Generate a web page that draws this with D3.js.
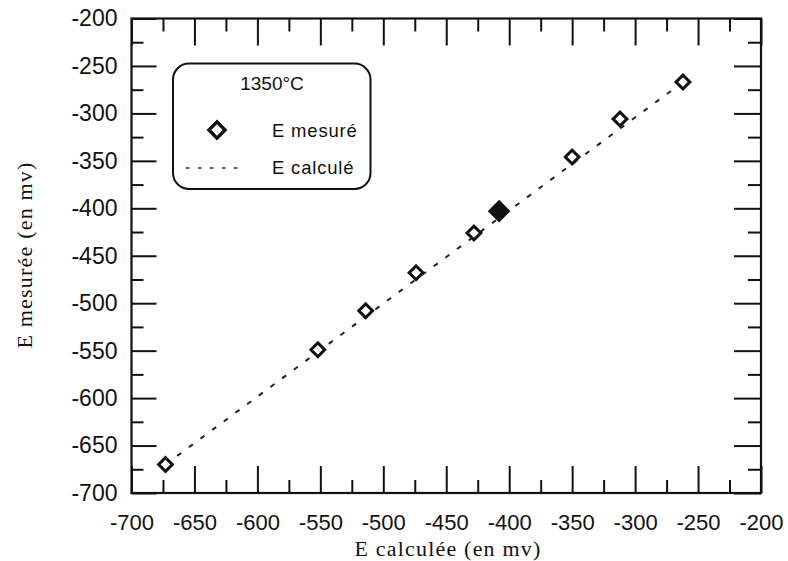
<!DOCTYPE html>
<html><head><meta charset="utf-8">
<script src="https://cdn.jsdelivr.net/npm/d3@7"></script>
<style>
html,body{margin:0;padding:0;background:#fff;}
svg{display:block;}
</style>
</head><body>
<svg id="chart" width="788" height="561"></svg>
<script>
// ---- data ----
const eCalc   = [-673, -552, -514, -474, -428, -408, -350, -312, -262];
const eMesure = [-670, -549, -508, -468, -426, -403, -346, -306, -267];
const filled  = [false, false, false, false, false, true, false, false, false];
const lineCalcX = [-673, -262];
const lineCalcY = [-670, -267];
const xTicks = [-700, -650, -600, -550, -500, -450, -400, -350, -300, -250, -200];
const yTicks = [-700, -650, -600, -550, -500, -450, -400, -350, -300, -250, -200];
const minorTicks = [-675, -625, -575, -525, -475, -425, -375, -325, -275, -225];
const legendTitle = "1350°C";
const legendLabels = ["E mesuré", "E calculé"];
const xTitle = "E calculée (en mv)";
const yTitle = "E mesurée (en mv)";

// ---- layout ----
const L = 131.5, R = 761, T = 18.5, B = 493;
const svg = d3.select("#chart");
const x = d3.scaleLinear().domain([-700, -200]).range([L, R]);
const y = d3.scaleLinear().domain([-700, -200]).range([B, T]);
const fmt = d => String(d);
const sans = "Arial, 'Liberation Sans', sans-serif";
const serif = "'Times New Roman', 'Liberation Serif', serif";

function styleAxis(size) {
  return g => {
    g.select(".domain").remove();
    g.selectAll(".tick line").attr("stroke", "#111").attr("stroke-width", 2);
    g.selectAll(".tick text").attr("fill", "#111").attr("font-family", sans).attr("font-size", size);
  };
}

// bottom
svg.append("g").attr("transform", `translate(0,${B})`)
  .call(d3.axisBottom(x).tickValues(xTicks).tickSizeInner(-27).tickSizeOuter(0).tickPadding(21).tickFormat(fmt))
  .call(styleAxis(22));
svg.append("g").attr("transform", `translate(0,${B})`)
  .call(d3.axisBottom(x).tickValues(minorTicks).tickSizeInner(-13).tickSizeOuter(0).tickFormat(""))
  .call(styleAxis(22));
// top
svg.append("g").attr("transform", `translate(0,${T})`)
  .call(d3.axisTop(x).tickValues(xTicks).tickSizeInner(-27).tickSizeOuter(0).tickFormat(""))
  .call(styleAxis(22));
svg.append("g").attr("transform", `translate(0,${T})`)
  .call(d3.axisTop(x).tickValues(minorTicks).tickSizeInner(-13).tickSizeOuter(0).tickFormat(""))
  .call(styleAxis(22));
// left
svg.append("g").attr("transform", `translate(${L},0)`)
  .call(d3.axisLeft(y).tickValues(yTicks).tickSizeInner(-25).tickSizeOuter(0).tickPadding(14).tickFormat(fmt))
  .call(styleAxis(23));
svg.append("g").attr("transform", `translate(${L},0)`)
  .call(d3.axisLeft(y).tickValues(minorTicks).tickSizeInner(-12).tickSizeOuter(0).tickFormat(""))
  .call(styleAxis(23));
// right
svg.append("g").attr("transform", `translate(${R},0)`)
  .call(d3.axisRight(y).tickValues(yTicks).tickSizeInner(-27).tickSizeOuter(0).tickFormat(""))
  .call(styleAxis(22));
svg.append("g").attr("transform", `translate(${R},0)`)
  .call(d3.axisRight(y).tickValues(minorTicks).tickSizeInner(-13).tickSizeOuter(0).tickFormat(""))
  .call(styleAxis(22));

// frame
svg.append("rect").attr("x", L).attr("y", T).attr("width", R - L).attr("height", B - T)
  .attr("fill", "none").attr("stroke", "#111").attr("stroke-width", 2.2);

// dashed line (E calculé)
const lineData = lineCalcX.map((v, i) => [v, lineCalcY[i]]);
svg.append("path").datum(lineData)
  .attr("d", d3.line().x(d => x(d[0])).y(d => y(d[1])))
  .attr("fill", "none").attr("stroke", "#222").attr("stroke-width", 2)
  .attr("stroke-dasharray", "5,9.5");

// diamonds
svg.append("g").selectAll("path").data(eCalc.map((v, i) => ({x: v, y: eMesure[i], f: filled[i]})))
  .join("path")
  .attr("d", d => d3.symbol().type(d3.symbolSquare).size(d.f ? 170 : 95)())
  .attr("transform", d => `translate(${x(d.x)},${y(d.y)}) rotate(45)`)
  .attr("fill", d => d.f ? "#111" : "#fff")
  .attr("stroke", "#111").attr("stroke-width", 3);

// legend
const lg = svg.append("g");
lg.append("rect").attr("x", 173).attr("y", 63.5).attr("width", 197.5).attr("height", 125.5)
  .attr("rx", 16).attr("ry", 16).attr("fill", "#fff").attr("stroke", "#111").attr("stroke-width", 2);
lg.append("text").attr("x", 272).attr("y", 90).attr("text-anchor", "middle")
  .attr("font-family", sans).attr("font-size", 19).attr("fill", "#111").text(legendTitle);
lg.append("path").attr("d", d3.symbol().type(d3.symbolSquare).size(130)())
  .attr("transform", "translate(217,130) rotate(45)")
  .attr("fill", "#fff").attr("stroke", "#111").attr("stroke-width", 3.4);
lg.append("line").attr("x1", 186).attr("x2", 245).attr("y1", 168).attr("y2", 168)
  .attr("stroke", "#222").attr("stroke-width", 1.6).attr("stroke-dasharray", "3.5,8.5");
lg.selectAll("text.lab").data(legendLabels).join("text").attr("class", "lab")
  .attr("x", 272).attr("y", (d, i) => 137 + i * 37)
  .attr("font-family", sans).attr("font-size", 18.5).attr("letter-spacing", 0.8)
  .attr("fill", "#111").text(d => d);

// axis titles
svg.append("text").attr("x", 448).attr("y", 556).attr("text-anchor", "middle")
  .attr("font-family", serif).attr("font-size", 22).attr("letter-spacing", 1.2)
  .attr("fill", "#111").text(xTitle);
svg.append("text").attr("transform", "translate(32,255) rotate(-90)").attr("text-anchor", "middle")
  .attr("font-family", serif).attr("font-size", 22).attr("letter-spacing", 1.2)
  .attr("fill", "#111").text(yTitle);
</script>
</body></html>
